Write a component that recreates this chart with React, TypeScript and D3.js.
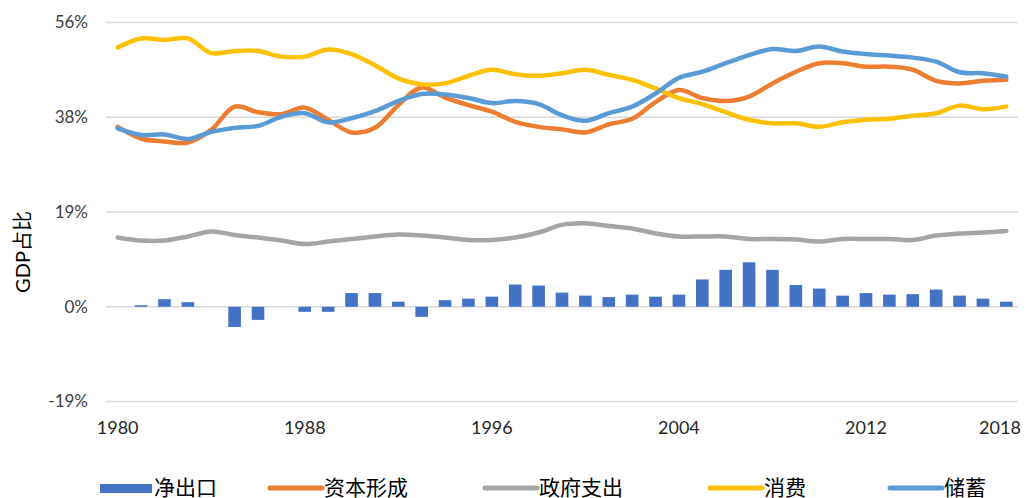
import React from "react";
import * as d3 from "d3";

const years = d3.range(1980, 2019).map(String);

// net exports (bars), % of GDP
const netExports = [
  0, 0.3, 1.5, 0.9, 0, -4.0, -2.6, 0, -1.0, -1.0,
  2.7, 2.7, 1.0, -2.0, 1.3, 1.6, 2.0, 4.4, 4.2, 2.8,
  2.2, 1.9, 2.4, 2.0, 2.4, 5.4, 7.3, 8.8, 7.3, 4.3,
  3.6, 2.2, 2.7, 2.4, 2.5, 3.4, 2.2, 1.6, 1.0
];

const capital = [
  35.6, 33.3, 32.7, 32.5, 35.0, 39.6, 38.5, 38.1, 39.4, 37.0,
  34.5, 35.4, 39.9, 43.4, 41.4, 39.9, 38.6, 36.6, 35.6, 35.1,
  34.5, 36.1, 37.2, 40.5, 42.9, 41.3, 40.7, 41.6, 44.2, 46.5,
  48.2, 48.2, 47.5, 47.5, 46.9, 44.7, 44.2, 44.7, 44.9
];

const government = [
  13.7, 13.1, 13.1, 13.9, 14.9, 14.2, 13.7, 13.1, 12.4, 12.9,
  13.4, 13.9, 14.3, 14.1, 13.7, 13.2, 13.2, 13.7, 14.7, 16.2,
  16.5, 16.0, 15.5, 14.5, 13.9, 13.9, 13.9, 13.4, 13.4, 13.3,
  12.9, 13.4, 13.4, 13.4, 13.2, 14.1, 14.5, 14.7, 15.0
];

const consumption = [
  51.3, 53.1, 52.8, 53.1, 50.2, 50.6, 50.6, 49.5, 49.5, 50.9,
  50.0, 47.8, 45.2, 44.0, 44.2, 45.7, 46.9, 46.0, 45.7, 46.2,
  46.9, 45.9, 44.9, 43.2, 41.3, 40.1, 38.5, 37.0, 36.3, 36.3,
  35.6, 36.5, 37.0, 37.2, 37.8, 38.3, 39.8, 39.1, 39.6
];

const savings = [
  35.3, 34.0, 34.1, 33.2, 34.6, 35.4, 35.8, 37.6, 38.3, 36.5,
  37.3, 38.7, 40.7, 42.1, 42.0, 41.3, 40.3, 40.7, 40.1, 37.9,
  36.8, 38.3, 39.6, 42.2, 45.3, 46.5, 48.2, 49.8, 51.0, 50.6,
  51.5, 50.5, 50.0, 49.7, 49.3, 48.5, 46.4, 46.2, 45.5
];

const yTicks = [-18.75, 0, 18.75, 37.5, 56.25];
const xTickLabels = ["1980", "1988", "1996", "2004", "2012", "2018"];

const lineSeries = [
  { name: "资本形成", values: capital, color: "#ED7D31" },
  { name: "政府支出", values: government, color: "#A5A5A5" },
  { name: "消费", values: consumption, color: "#FFC000" },
  { name: "储蓄", values: savings, color: "#5B9BD5" },
];

const legendItems = [
  { name: "净出口", color: "#4472C4", bar: true, x: 100 },
  { name: "资本形成", color: "#ED7D31", bar: false, x: 270 },
  { name: "政府支出", color: "#A5A5A5", bar: false, x: 485 },
  { name: "消费", color: "#FFC000", bar: false, x: 710 },
  { name: "储蓄", color: "#5B9BD5", bar: false, x: 890 },
];

const W = 1034;
const H = 498;
const font = "Lato, 'Noto Sans CJK SC', sans-serif";

// excel-style rounding, plain hyphen for negatives
const pct = (t: number) => Math.round(t).toString() + "%";

export default function App() {
  const x = d3
    .scaleBand<string>()
    .domain(years)
    .range([106, 1018])
    .paddingInner(0.46)
    .paddingOuter(0.23);
  const y = d3.scaleLinear().domain([-18.75, 56.25]).range([401.5, 22.5]);
  const cx = (yr: string) => (x(yr) as number) + x.bandwidth() / 2;

  const line = d3
    .line<number>()
    .x((_, i) => cx(years[i]))
    .y((d) => y(d))
    .curve(d3.curveCatmullRom.alpha(0.5));

  return (
    <svg
      width={W}
      height={H}
      style={{ position: "absolute", left: 0, top: 0, background: "#fff" }}
      fontFamily={font}
    >
      {/* grid + y labels */}
      {yTicks.map((t) => (
        <g key={t}>
          <line x1={106} x2={1018} y1={y(t)} y2={y(t)} stroke="#d9d9d9" strokeWidth={1.5} />
          <text x={88} y={y(t)} dy="0.35em" textAnchor="end" fontSize={17} fill="#404040">
            {pct(t)}
          </text>
        </g>
      ))}

      {/* x labels */}
      {xTickLabels.map((yr) => (
        <text key={yr} x={Math.min(cx(yr), 1000)} y={428} dy="0.35em" textAnchor="middle" fontSize={18} fill="#262626">
          {yr}
        </text>
      ))}

      {/* axis title */}
      <text
        transform={`translate(23,252) rotate(-90)`}
        textAnchor="middle"
        dy="0.35em"
        fontSize={20}
        fill="#000"
      >
        GDP占比
      </text>

      {/* bars */}
      {netExports.map((v, i) => (
        <rect
          key={years[i]}
          x={x(years[i])}
          width={x.bandwidth()}
          y={y(Math.max(v, 0))}
          height={Math.abs(y(v) - y(0))}
          fill="#4472C4"
        />
      ))}

      {/* lines */}
      {lineSeries.map((s) => (
        <path
          key={s.name}
          d={line(s.values) as string}
          fill="none"
          stroke={s.color}
          strokeWidth={4.5}
          strokeLinejoin="round"
          strokeLinecap="round"
        />
      ))}

      {/* legend */}
      {legendItems.map((it) => (
        <g key={it.name} transform={`translate(${it.x},488)`}>
          {it.bar ? (
            <rect x={0} y={-4} width={52} height={9} fill={it.color} />
          ) : (
            <line x1={0} x2={52} y1={0} y2={0} stroke={it.color} strokeWidth={5} strokeLinecap="round" />
          )}
          <text x={54} y={0} dy="0.35em" fontSize={21} fill="#000">
            {it.name}
          </text>
        </g>
      ))}
    </svg>
  );
}
